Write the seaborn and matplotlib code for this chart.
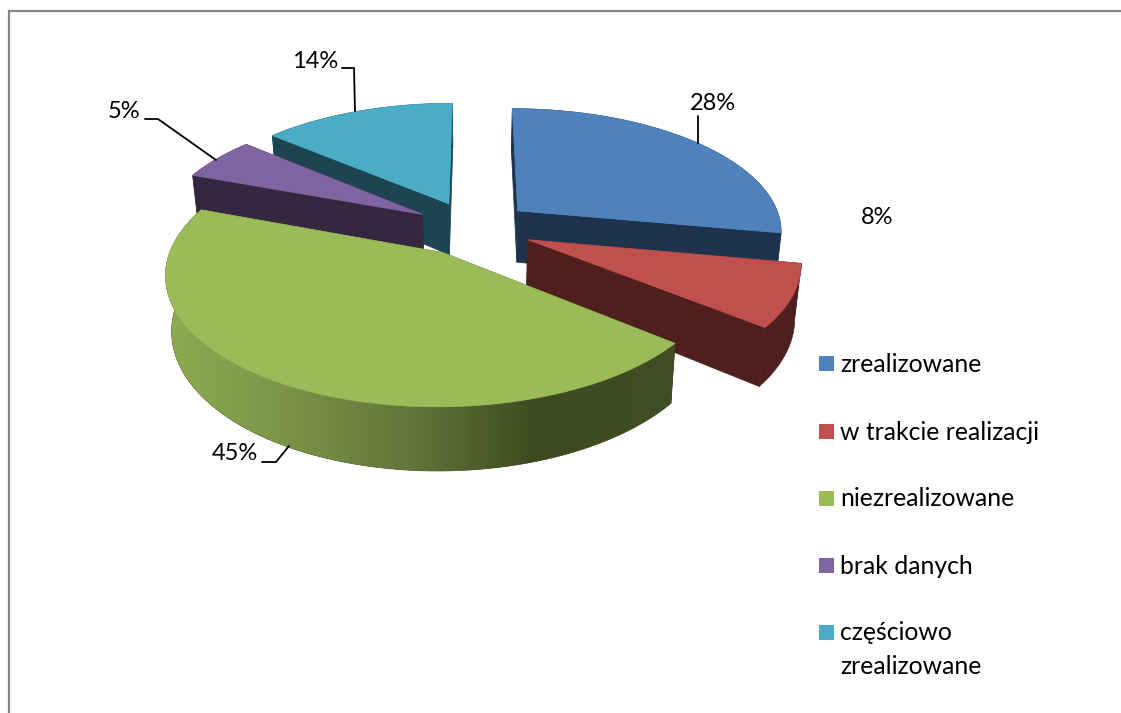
import numpy as np
import matplotlib
matplotlib.use("Agg")
import matplotlib.pyplot as plt
from matplotlib.colors import LinearSegmentedColormap
from matplotlib.patches import Polygon, Rectangle
import seaborn as sns

categories = ["zrealizowane", "w trakcie realizacji", "niezrealizowane", "brak danych", "częściowo\nzrealizowane"]
shares = [27.9, 7.9, 44.8, 5.6, 13.8]
share_labels = ["28%", "8%", "45%", "5%", "14%"]

top_colors = ["#4F81BD", "#C0504D", "#9BBB59", "#8064A2", "#4BACC6"]
side_colors = ["#1F334D", "#4F1F1E", "#414C22", "#352740", "#1D4450"]

# projection of the pie plane onto the page, in pixels
cx, cy = 473, 228
rx, ry = 265, 122.5
persp = 0.152
explode = 0.224
depth = 52.5
shrink = 0.98
first_angle = 0.1

sns.set_theme(style="white")
plt.rcParams["font.family"] = ["Lato", "DejaVu Sans"]

W, H = 1121, 713
fig = plt.figure(figsize=(W / 100, H / 100), dpi=100)
ax = fig.add_axes([0, 0, 1, 1])
ax.set_xlim(0, W)
ax.set_ylim(H, 0)
ax.axis("off")


def project(u, v, low=False):
    s = 1 / (1 - persp * v)
    if low:
        return np.column_stack([cx + rx * u * s * shrink, cy + ry * v * s + depth * s])
    return np.column_stack([cx + rx * u * s, cy + ry * v * s])


def slice_outline(start, stop):
    t = np.radians(np.linspace(start, stop, 90))
    mid = np.radians((start + stop) / 2)
    ox, oy = explode * np.sin(mid), -explode * np.cos(mid)
    return ox, oy, ox + np.sin(t), oy - np.cos(t)


edges = first_angle + np.cumsum([0] + shares) * 3.6
draw_order = [4, 3, 0, 1, 2]
for rank, i in enumerate(draw_order):
    ox, oy, u, v = slice_outline(edges[i], edges[i + 1])
    apex_top = project(np.array([ox]), np.array([oy]))
    apex_low = project(np.array([ox]), np.array([oy]), low=True)
    arc_top = project(u, v)
    arc_low = project(u, v, low=True)
    z = 2 + rank * 3

    # the two cut faces
    for end in (0, -1):
        face = np.vstack([apex_top, arc_top[end], arc_low[end], apex_low])
        ax.add_patch(Polygon(face, fc=side_colors[i], ec=side_colors[i], lw=0.5, zorder=z))

    # outer wall, the large slice carries a light gradient
    wall = np.vstack([arc_top, arc_low[::-1]])
    patch = Polygon(wall, fc=side_colors[i], ec=side_colors[i], lw=0.5, zorder=z + 1)
    ax.add_patch(patch)
    if categories[i] == "niezrealizowane":
        cmap = LinearSegmentedColormap.from_list(
            "wall", [(0, "#8EAB52"), (0.2, "#7E984A"), (0.5, "#5F7338"), (0.73, "#3E4A20"), (1, "#414D23")])
        xs = np.linspace(0, 1, 256)[None, :]
        im = ax.imshow(xs, cmap=cmap, aspect="auto", zorder=z + 1,
                       extent=[wall[:, 0].min(), wall[:, 0].max(), wall[:, 1].max(), wall[:, 1].min()])
        im.set_clip_path(patch)

    top = np.vstack([apex_top, arc_top])
    ax.add_patch(Polygon(top, fc=top_colors[i], ec=top_colors[i], lw=0.5, zorder=z + 2))

ax.set_xlim(0, W)
ax.set_ylim(H, 0)

# data labels with their leader lines
label_pos = [(713, 104), (877, 217), (235, 454), (124, 112), (315, 61)]
leaders = [
    [(698, 116), (698, 143)],
    None,
    [(262, 462), (276, 462), (289, 446)],
    [(145, 119), (158, 119), (216, 160)],
    [(342, 68), (354, 68), (355, 111)],
]
for lab, pos, line in zip(share_labels, label_pos, leaders):
    ax.text(pos[0], pos[1], lab, fontsize=17, color="black", ha="center", va="center", zorder=40)
    if line is not None:
        xs, ys = zip(*line)
        ax.plot(xs, ys, color="black", lw=1.3, zorder=30, solid_joinstyle="miter")

# legend
legend_y = [363, 431, 498, 565, 632]
for name, color, y in zip(categories, top_colors, legend_y):
    ax.add_patch(Rectangle((819, y - 7), 15, 15, fc=color, ec="none", zorder=40))
    first, *rest = name.split("\n")
    ax.text(840, y + 1, first, fontsize=17.8, color="black", ha="left", va="center", zorder=40)
    for k, line in enumerate(rest):
        ax.text(840, y + 1 + 34 * (k + 1), line, fontsize=17.8, color="black", ha="left", va="center", zorder=40)

# chart frame
ax.plot([9, 9, W], [H, 11, 11], color="#868686", lw=1.6, zorder=50, solid_joinstyle="miter")

fig.savefig("out.png", dpi=100, facecolor="white")
